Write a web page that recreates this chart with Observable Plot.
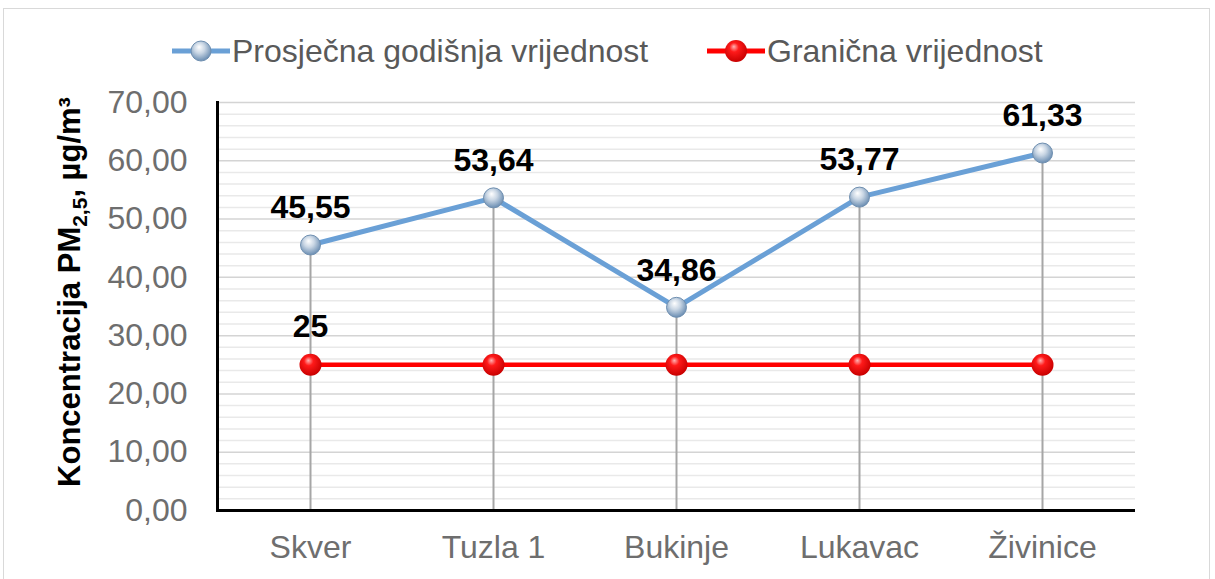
<!DOCTYPE html>
<html>
<head>
<meta charset="utf-8">
<script src="https://cdn.jsdelivr.net/npm/d3@7"></script>
<script src="https://cdn.jsdelivr.net/npm/@observablehq/plot@0.6"></script>
<style>
  html, body { margin: 0; padding: 0; background: #fff; overflow: hidden; }
  #wrap { position: relative; width: 1215px; height: 579px; font-family: "Liberation Sans", Arial, sans-serif; }
  #border { position: absolute; left: 3px; top: 8px; width: 1207px; height: 620px; border: 1.5px solid #d9d9d9; box-sizing: border-box; }
  #legend { position: absolute; top: 31px; left: 0; width: 1215px; height: 40px; font-size: 32px; color: #595959; }
  .item { position: absolute; top: 0; display: flex; align-items: center; height: 40px; }
  .item svg { display: block; }
  #chart { position: absolute; left: 0; top: 0; }
</style>
</head>
<body>
<div id="wrap">
  <div id="border"></div>
  <div id="chart"></div>
  <div id="legend"></div>
</div>
<script>
// ---- data ----
const stations = ["Skver", "Tuzla 1", "Bukinje", "Lukavac", "Živinice"];
const avgValues = [45.55, 53.64, 34.86, 53.77, 61.33];
const limitValues = [25, 25, 25, 25, 25];
const yTicks = [0, 10, 20, 30, 40, 50, 60, 70];
const yMinorTicks = [2,4,6,8,12,14,16,18,22,24,26,28,32,34,36,38,42,44,46,48,52,54,56,58,62,64,66,68];
const seriesNames = ["Prosječna godišnja vrijednost", "Granična vrijednost"];

const avgData = stations.map((s, i) => ({station: s, value: avgValues[i]}));
const limitData = stations.map((s, i) => ({station: s, value: limitValues[i]}));
const fmt = d => d.toFixed(2).replace(".", ",");

const blue = "#6aa0d6";
const red = "#ff0000";
const font = "'Liberation Sans', Arial, sans-serif";

const plot = Plot.plot({
  width: 1215,
  height: 579,
  marginLeft: 217,
  marginRight: 80,
  marginTop: 102,
  marginBottom: 69,
  style: {fontFamily: font, background: "transparent"},
  x: {type: "point", domain: stations, padding: 0.5},
  y: {domain: [0, 70]},
  marks: [
    Plot.ruleY(yMinorTicks, {stroke: "#e9e9e9", strokeWidth: 1.5}),
    Plot.ruleY(yTicks, {stroke: "#d4d4d4", strokeWidth: 1.5}),
    Plot.ruleX(avgData, {x: "station", y1: 0, y2: "value", stroke: "#a6a6a6", strokeWidth: 2}),
    Plot.line(limitData, {x: "station", y: "value", stroke: red, strokeWidth: 4.5}),
    Plot.line(avgData, {x: "station", y: "value", stroke: blue, strokeWidth: 5}),
    Plot.dot(limitData, {x: "station", y: "value", r: 11, fill: "url(#gRed)", stroke: "none"}),
    Plot.dot(avgData, {x: "station", y: "value", r: 10, fill: "url(#gBlue)", stroke: "#6f8fb0", strokeWidth: 1}),
    Plot.text(avgData, {x: "station", y: "value", text: d => fmt(d.value), dy: -37, fontSize: 32, fontWeight: "bold", fill: "#000"}),
    Plot.text(limitData.slice(0, 1), {x: "station", y: "value", text: d => String(d.value), dy: -38, fontSize: 32, fontWeight: "bold", fill: "#000"}),
    Plot.axisY({ticks: yTicks, tickFormat: fmt, tickSize: 0, tickPadding: 30, fontSize: 32, color: "#6e6e6e", label: null}),
    Plot.axisX({tickSize: 0, tickPadding: 25, fontSize: 32, color: "#6e6e6e", label: null}),
    Plot.frame({anchor: "left", stroke: "#000", strokeWidth: 3}),
    Plot.ruleY([0], {stroke: "#000", strokeWidth: 3})
  ]
});

// gradients for the sphere-like markers
const defs = d3.select(plot).insert("defs", ":first-child");
const gb = defs.append("radialGradient").attr("id", "gBlue").attr("cx", "45%").attr("cy", "40%").attr("r", "60%").attr("fx", "40%").attr("fy", "30%");
gb.append("stop").attr("offset", "0%").attr("stop-color", "#ffffff");
gb.append("stop").attr("offset", "45%").attr("stop-color", "#c9d6e4");
gb.append("stop").attr("offset", "100%").attr("stop-color", "#6a8db2");
const gr = defs.append("radialGradient").attr("id", "gRed").attr("cx", "45%").attr("cy", "40%").attr("r", "60%").attr("fx", "40%").attr("fy", "30%");
gr.append("stop").attr("offset", "0%").attr("stop-color", "#ffb3b3");
gr.append("stop").attr("offset", "35%").attr("stop-color", "#ff1a1a");
gr.append("stop").attr("offset", "100%").attr("stop-color", "#c80000");

// y axis title with subscript / superscript
const t = d3.select(plot).append("text")
  .attr("transform", "translate(80,292) rotate(-90)")
  .attr("text-anchor", "middle")
  .attr("font-family", font)
  .attr("font-size", 31)
  .attr("font-weight", "bold")
  .attr("fill", "#000");
t.append("tspan").text("Koncentracija PM");
t.append("tspan").attr("font-size", 21).attr("dy", 7).text("2,5");
t.append("tspan").attr("dy", -7).text(", µg/m³");

document.getElementById("chart").appendChild(plot);

// legend
const legend = document.getElementById("legend");
const legendItems = [
  {name: seriesNames[0], color: blue, grad: "gBlue", left: 171, r: 10},
  {name: seriesNames[1], color: red, grad: "gRed", left: 706, r: 11}
];
legendItems.forEach(it => {
  const div = document.createElement("div");
  div.className = "item";
  div.style.left = it.left + "px";
  div.innerHTML = `<svg width="60" height="40"><line x1="1" x2="59" y1="20" y2="20" stroke="${it.color}" stroke-width="5"/><circle cx="30" cy="20" r="${it.r}" fill="url(#${it.grad})" stroke="${it.grad === 'gBlue' ? '#6f8fb0' : 'none'}"/></svg><span style="margin-left:1px">${it.name}</span>`;
  legend.appendChild(div);
});
</script>
</body>
</html>
